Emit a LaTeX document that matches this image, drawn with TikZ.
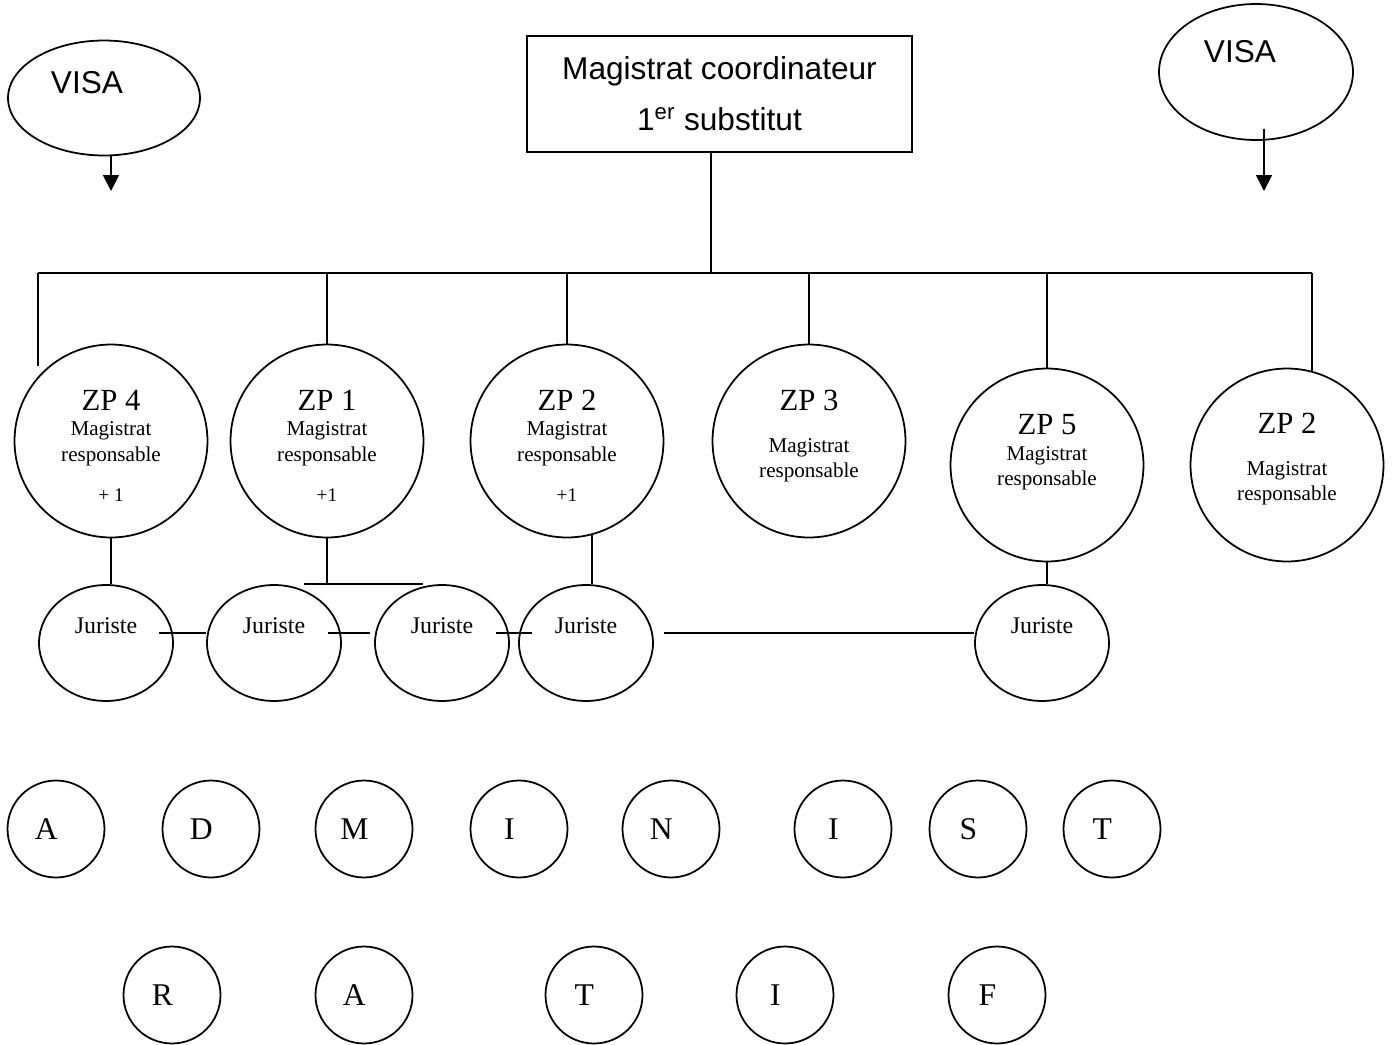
\documentclass[tikz,border=0pt]{standalone}
\usepackage{fontspec}
\setmainfont{Liberation Serif}
\setsansfont{Liberation Sans}
\usepackage{tikz}
\usetikzlibrary{shapes.geometric,arrows.meta}
\newcommand{\titrezp}[1]{{\fontsize{17.5}{14.5}\selectfont #1}}

\begin{document}
\begin{tikzpicture}[x=0.02cm, y=-0.02cm, line width=1pt,
cadre/.style={draw, rectangle, minimum width=7.7cm, minimum height=2.32cm, align=center, font=\sffamily\fontsize{18}{28.9}\selectfont},
visa/.style={draw, ellipse, inner sep=0pt},
visatxt/.style={font=\sffamily\fontsize{18}{22}\selectfont},
zone/.style={draw, circle, minimum size=3.86cm, inner sep=0pt, align=center, text depth=0pt, font=\fontsize{12}{14.5}\selectfont},
juriste/.style={draw, ellipse, minimum width=2.68cm, minimum height=2.32cm, inner sep=0pt, text height=0pt, text depth=11.3pt, font=\fontsize{13.6}{16}\selectfont},
lettre/.style={draw, circle, minimum size=1.94cm, inner sep=0pt, font=\fontsize{18}{20}\selectfont, execute at end node={\hspace*{11pt}}},
fleche/.style={-{Triangle[length=0.32cm,width=0.32cm]}}]
\useasboundingbox (0,0) rectangle (1394,1045);
\node[cadre] (coord) at (719.5,94) {Magistrat coordinateur\\1\textsuperscript{er} substitut};
\node[visa, minimum width=3.84cm, minimum height=2.3cm, label={[visatxt, xshift=-0.34cm, yshift=0.3cm]center:VISA}] (visaG) at (104,98) {};
\node[visa, minimum width=3.88cm, minimum height=2.72cm, label={[visatxt, xshift=-0.32cm, yshift=0.4cm]center:VISA}] (visaD) at (1256,72) {};
\coordinate (visaGbas) at (111,191);
\coordinate (visaDbas) at (1264,191);
\draw[fleche] (visaGbas |- visaG.south) -- (visaGbas);
\draw[fleche] (visaDbas |- visaD.south) ++(0,-12) -- (visaDbas);

\node[zone, text height=69.2pt] (zp4) at (111,441) {\titrezp{ZP 4}\\Magistrat\\responsable\\[8.7pt]{\fontsize{11}{14.5}\selectfont + 1}};
\node[zone, text height=69.2pt] (zp1) at (327,441) {\titrezp{ZP 1}\\Magistrat\\responsable\\[8.7pt]{\fontsize{11}{14.5}\selectfont +1}};
\node[zone, text height=69.2pt] (zp2) at (567,441) {\titrezp{ZP 2}\\Magistrat\\responsable\\[8.7pt]{\fontsize{11}{14.5}\selectfont +1}};
\node[zone, text height=42pt] (zp3) at (809,441) {\titrezp{ZP 3}\\[9.3pt]Magistrat\\responsable};
\node[zone, text height=23.8pt] (zp5) at (1047,465) {\titrezp{ZP 5}\\Magistrat\\responsable};
\node[zone, text height=40.8pt] (zp2b) at (1287,465) {\titrezp{ZP 2}\\[9.3pt]Magistrat\\responsable};

\coordinate (jonction) at (711,273);
\coordinate (busG) at (38,273);
\coordinate (busD) at (1312,273);
\draw (coord.south -| jonction) -- (jonction);
\draw (busG) -- (busD);
\draw (busG) -- (busG |- zp4.130);
\draw (zp1.north |- busG) -- (zp1.north);
\draw (zp2.north |- busG) -- (zp2.north);
\draw (zp3.north |- busG) -- (zp3.north);
\draw (zp5.north |- busG) -- (zp5.north);
\draw (busD) -- (busD |- zp2b.75);

\node[juriste] (j1) at (106,643) {Juriste};
\node[juriste] (j2) at (274,643) {Juriste};
\node[juriste] (j3) at (442,643) {Juriste};
\node[juriste] (j4) at (586,643) {Juriste};
\node[juriste] (j5) at (1042,643) {Juriste};
\draw (zp4.south) -- (zp4.south |- j1.north);
\draw (zp1.south) -- (zp1.south |- j2.north);
\draw ([xshift=0.6cm]j2.north) -- ([xshift=-0.38cm]j3.north);
\draw (zp2.-75) -- (zp2.-75 |- j4.north);
\draw (zp5.south) -- (zp5.south |- j5.north);
\draw ([shift={(-0.3cm,0.2cm)}]j1.east) -- ([yshift=0.2cm]j2.west);
\draw ([shift={(-0.28cm,0.2cm)}]j2.east) -- ([shift={(-0.08cm,0.2cm)}]j3.west);
\draw ([shift={(-0.28cm,0.2cm)}]j3.east) -- ([shift={(0.28cm,0.2cm)}]j4.west);
\draw ([shift={(0.2cm,0.2cm)}]j4.east) -- ([yshift=0.2cm]j5.west);

\node[lettre] (adm1) at (56,829) {A};
\node[lettre] (adm2) at (211,829) {D};
\node[lettre] (adm3) at (364,829) {M};
\node[lettre] (adm4) at (519,829) {I};
\node[lettre] (adm5) at (671,829) {N};
\node[lettre] (adm6) at (843,829) {I};
\node[lettre] (adm7) at (978,829) {S};
\node[lettre] (adm8) at (1112,829) {T};
\node[lettre] (adm9) at (172,995) {R};
\node[lettre] (adm10) at (364,995) {A};
\node[lettre] (adm11) at (594,995) {T};
\node[lettre] (adm12) at (785,995) {I};
\node[lettre] (adm13) at (997,995) {F};
\end{tikzpicture}
\end{document}
